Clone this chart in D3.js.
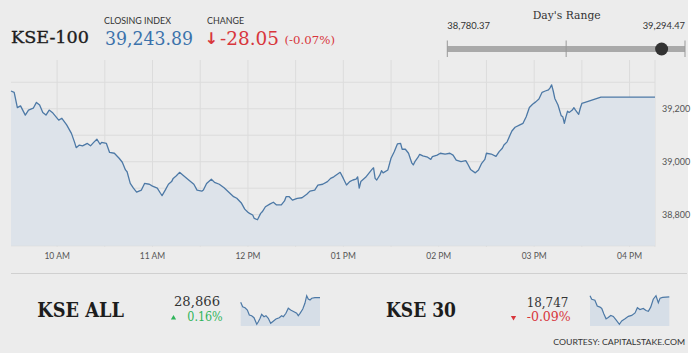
<!DOCTYPE html>
<html><head><meta charset="utf-8">
<script src="https://cdn.jsdelivr.net/npm/d3@7"></script>
<style>html,body{margin:0;padding:0;background:#fff;}svg{display:block;}</style>
</head><body>
<svg id="c" width="696" height="359"></svg>
<script>
// ---- data ----
const kse100Times = ["09:31","09:33","09:35","09:37","09:40","09:42","09:45","09:47","09:49","09:51","09:53","09:55","09:57","10:01","10:03","10:06","10:09","10:11","10:12","10:14","10:16","10:19","10:21","10:23","10:25","10:27","10:28","10:31","10:33","10:36","10:39","10:41","10:43","10:44","10:46","10:48","10:50","10:53","10:55","10:58","11:00","11:03","11:05","11:06","11:08","11:10","11:12","11:13","11:15","11:17","11:19","11:22","11:26","11:28","11:31","11:32","11:34","11:37","11:39","11:42","11:45","11:48","11:51","11:53","11:56","11:58","12:00","12:01","12:03","12:04","12:06","12:08","12:09","12:11","12:14","12:16","12:18","12:21","12:23","12:24","12:26","12:28","12:31","12:34","12:37","12:39","12:42","12:44","12:47","12:50","12:52","12:54","12:56","12:58","13:00","13:02","13:04","13:06","13:08","13:09","13:10","13:11","13:14","13:16","13:18","13:19","13:20","13:21","13:23","13:24","13:25","13:28","13:30","13:32","13:34","13:36","13:37","13:39","13:41","13:43","13:44","13:45","13:47","13:48","13:50","13:53","13:55","13:56","13:59","14:01","14:04","14:07","14:09","14:11","14:14","14:17","14:18","14:20","14:23","14:25","14:27","14:29","14:30","14:33","14:36","14:38","14:40","14:41","14:43","14:45","14:46","14:48","14:51","14:53","14:55","14:57","14:59","15:01","15:03","15:05","15:07","15:09","15:10","15:11","15:12","15:13","15:15","15:17","15:18","15:19","15:20","15:21","15:22","15:24","15:25","15:26","15:28","15:29","15:30","15:32","15:42","16:16"];
const kse100Values = [39267,39262,39204,39211,39176,39195,39202,39224,39214,39186,39176,39195,39186,39157,39164,39139,39107,39073,39053,39063,39060,39069,39060,39073,39085,39066,39073,39069,39035,39032,39013,38998,38969,38962,38918,38900,38885,38893,38918,38915,38908,38900,38881,38872,38893,38915,38925,38937,38947,38960,38950,38935,38915,38893,38889,38893,38918,38934,38922,38915,38902,38885,38868,38862,38843,38821,38809,38805,38799,38786,38781,38805,38811,38830,38841,38847,38837,38837,38852,38868,38868,38855,38862,38864,38877,38889,38893,38912,38915,38925,38937,38943,38952,38960,38937,38912,38925,38931,38934,38943,38900,38925,38941,38956,38971,38977,38937,38931,38950,38966,38958,38969,39013,39038,39067,39069,39047,39047,39032,38996,38988,39000,39017,39028,39022,39017,39009,39019,39025,39032,39029,39032,39025,39006,39000,39004,38994,38971,38958,38969,38994,39009,39032,39029,39020,39038,39051,39063,39075,39103,39116,39130,39139,39145,39170,39205,39217,39226,39237,39262,39267,39271,39279,39290,39267,39239,39214,39174,39170,39145,39170,39191,39186,39195,39204,39195,39179,39202,39220,39224,39244,39243.89];

const xTickTimes = ["10:00","11:00","12:00","13:00","14:00","15:00","16:00"];
const xTickLabels = ["10 AM","11 AM","12 PM","01 PM","02 PM","03 PM","04 PM"];
const yTickValues = [38800, 39000, 39200];

const kseAllTimes = ["09:31","09:41","09:53","10:05","10:15","10:27","10:39","10:53","11:01","11:10","11:18","11:30","11:40","11:52","12:04","12:14","12:31","12:48","13:00","13:09","13:22","13:34","13:46","14:03","14:17","14:25","14:34","14:48","14:59","15:08","15:16","15:25","15:34","15:50","16:16"];
const kseAllValues = [28811,28758,28746,28718,28658,28650,28626,28547,28578,28619,28667,28638,28650,28619,28559,28578,28610,28626,28650,28638,28679,28739,28718,28698,28679,28650,28679,28730,28799,28890,28850,28838,28859,28866,28866];

const kse30Times = ["09:31","09:40","09:56","10:08","10:22","10:31","10:42","10:53","11:04","11:17","11:30","11:44","12:01","12:13","12:30","12:47","13:04","13:21","13:33","13:46","14:03","14:17","14:29","14:41","14:54","15:08","15:20","15:29","15:42","16:16"];
const kse30Values = [18756,18727,18719,18671,18662,18651,18606,18566,18577,18594,18586,18557,18521,18549,18566,18586,18594,18614,18657,18642,18651,18634,18628,18662,18727,18756,18699,18736,18742,18747];

const closingIndex = 39243.89, change = "-28.05", changePct = "(-0.07%)";
const dayLow = 38780.37, dayHigh = 39294.47;
const kseAllClose = 28866, kseAllPct = "0.16%";
const kse30Close = 18747, kse30Pct = "-0.09%";

// ---- drawing ----
const svg = d3.select("#c");
const parse = d3.timeParse("%H:%M");
const serif = "'DejaVu Serif', 'Liberation Serif', serif";
const sans = "Lato, 'Open Sans', sans-serif";
const lineColor = "#4d79a6", fillColor = "#dde3ea", red = "#d8363c", green = "#2fb45a";

svg.append("rect").attr("x",0).attr("y",0).attr("width",688).attr("height",353).attr("fill","#ececec");

// main chart
const L = 11, R = 655, T = 60, B = 245.7;
const x = d3.scaleTime().domain([parse("09:31"), parse("16:16")]).range([L, R]);
const y = d3.scaleLinear().domain([38683, 39384]).range([B, T]);

const g = svg.append("g");
g.selectAll("line.h").data(d3.range(38700, 39301, 100)).join("line")
  .attr("x1", L).attr("x2", R).attr("y1", d => y(d)).attr("y2", d => y(d))
  .attr("stroke", "#dcdcdc").attr("stroke-width", 1);
const vTimes = d3.timeMinute.every(30).range(parse("10:00"), parse("16:01"));
g.selectAll("line.v").data(vTimes).join("line")
  .attr("x1", d => x(d)).attr("x2", d => x(d)).attr("y1", T).attr("y2", B + 1)
  .attr("stroke", "#dcdcdc").attr("stroke-width", 1);
g.append("line").attr("x1", R).attr("x2", R).attr("y1", T).attr("y2", B + 1).attr("stroke", "#dcdcdc");
g.append("line").attr("x1", L).attr("x2", R).attr("y1", B).attr("y2", B).attr("stroke", "#d4d4d4");

const data = kse100Times.map((t, i) => ({t: parse(t), v: kse100Values[i]}));
g.append("path").datum(data)
  .attr("d", d3.area().x(d => x(d.t)).y0(B).y1(d => y(d.v)))
  .attr("fill", fillColor);
g.append("path").datum(data)
  .attr("d", d3.line().x(d => x(d.t)).y(d => y(d.v)))
  .attr("fill", "none").attr("stroke", lineColor).attr("stroke-width", 1.3).attr("stroke-linejoin", "round");

g.selectAll("text.xt").data(xTickTimes).join("text")
  .attr("x", d => x(parse(d))).attr("y", 259).attr("text-anchor", "middle")
  .attr("font-family", sans).attr("font-size", 8.5).attr("fill", "#555")
  .text((d, i) => xTickLabels[i]);
g.selectAll("text.yt").data(yTickValues).join("text")
  .attr("x", 662).attr("y", d => y(d) + 3).attr("font-family", sans)
  .attr("font-size", 9).attr("fill", "#555").text(d => d3.format(",")(d));

// header
svg.append("text").attr("x", 11).attr("y", 43).attr("font-family", serif).attr("font-size", 17)
  .attr("fill", "#1d1d1d").attr("stroke", "#1d1d1d").attr("stroke-width", 0.35)
  .attr("textLength", 78).attr("lengthAdjust", "spacingAndGlyphs").text("KSE-100");
svg.append("text").attr("x", 104).attr("y", 23.5).attr("font-family", sans).attr("font-size", 8.5)
  .attr("fill", "#333").attr("textLength", 67).attr("lengthAdjust", "spacingAndGlyphs").text("CLOSING INDEX");
svg.append("text").attr("x", 105).attr("y", 45).attr("font-family", serif).attr("font-size", 18)
  .attr("fill", "#3b72ab").attr("textLength", 88).attr("lengthAdjust", "spacingAndGlyphs").text(d3.format(",.2f")(closingIndex));
svg.append("text").attr("x", 207).attr("y", 23.5).attr("font-family", sans).attr("font-size", 8.5)
  .attr("fill", "#333").attr("textLength", 37).attr("lengthAdjust", "spacingAndGlyphs").text("CHANGE");
svg.append("text").attr("x", 204.5).attr("y", 44).attr("font-family", "'DejaVu Sans', sans-serif").attr("font-size", 16)
  .attr("font-weight", "bold").attr("fill", red).text("↓");
svg.append("text").attr("x", 220).attr("y", 45).attr("font-family", serif).attr("font-size", 18)
  .attr("fill", red).attr("textLength", 59).attr("lengthAdjust", "spacingAndGlyphs").text(change);
svg.append("text").attr("x", 284.5).attr("y", 44).attr("font-family", serif).attr("font-size", 10.5)
  .attr("fill", red).attr("textLength", 50.5).attr("lengthAdjust", "spacingAndGlyphs").text(changePct);

// day's range
const rx = d3.scaleLinear().domain([dayLow, dayHigh]).range([447.3, 685]);
svg.append("text").attr("x", 566.7).attr("y", 19).attr("text-anchor", "middle").attr("font-family", serif)
  .attr("font-size", 11).attr("fill", "#333").attr("textLength", 68).attr("lengthAdjust", "spacingAndGlyphs").text("Day's Range");
svg.append("text").attr("x", rx(dayLow)).attr("y", 28.5).attr("font-family", sans).attr("font-size", 9)
  .attr("fill", "#333").attr("textLength", 42.7).attr("lengthAdjust", "spacingAndGlyphs").text(d3.format(",.2f")(dayLow));
svg.append("text").attr("x", rx(dayHigh)).attr("y", 28.5).attr("text-anchor", "end").attr("font-family", sans).attr("font-size", 9)
  .attr("fill", "#333").attr("textLength", 42.3).attr("lengthAdjust", "spacingAndGlyphs").text(d3.format(",.2f")(dayHigh));
svg.append("rect").attr("x", rx(dayLow)).attr("y", 46).attr("width", rx(dayHigh) - rx(dayLow)).attr("height", 6)
  .attr("fill", "#a9a9a9");
[dayLow, (dayLow + dayHigh) / 2, dayHigh].forEach(v => {
  svg.append("line").attr("x1", rx(v)).attr("x2", rx(v)).attr("y1", 40.5).attr("y2", 57)
    .attr("stroke", "#999").attr("stroke-width", 1);
});
svg.append("circle").attr("cx", rx(closingIndex)).attr("cy", 49).attr("r", 6.5).attr("fill", "#333");

svg.append("line").attr("x1", 11).attr("x2", 687).attr("y1", 273.5).attr("y2", 273.5).attr("stroke", "#d0d0d0");

function spark(times, values, x0, x1) {
  const sx = d3.scaleTime().domain([parse("09:31"), parse("16:16")]).range([x0, x1]);
  const sy = d3.scaleLinear().domain(d3.extent(values)).range([324.3, 295.7]);
  const d = times.map((t, i) => ({t: parse(t), v: values[i]}));
  svg.append("path").datum(d).attr("d", d3.area().x(p => sx(p.t)).y0(326).y1(p => sy(p.v))).attr("fill", "#d6dee7");
  svg.append("path").datum(d).attr("d", d3.line().x(p => sx(p.t)).y(p => sy(p.v)))
    .attr("fill", "none").attr("stroke", lineColor).attr("stroke-width", 1.2);
}
svg.append("text").attr("x", 37.3).attr("y", 317.3).attr("font-family", serif).attr("font-size", 20)
  .attr("font-weight", "bold").attr("fill", "#1d1d1d").attr("textLength", 86.7).attr("lengthAdjust", "spacingAndGlyphs").text("KSE ALL");
svg.append("text").attr("x", 174).attr("y", 306).attr("font-family", serif).attr("font-size", 13)
  .attr("fill", "#333").attr("textLength", 46).attr("lengthAdjust", "spacingAndGlyphs").text(d3.format(",")(kseAllClose));
svg.append("path").attr("d", d3.symbol(d3.symbolTriangle, 12)()).attr("transform", "translate(173.5,318)").attr("fill", green);
svg.append("text").attr("x", 187.3).attr("y", 321).attr("font-family", serif).attr("font-size", 12)
  .attr("fill", green).attr("textLength", 35.4).attr("lengthAdjust", "spacingAndGlyphs").text(kseAllPct);
spark(kseAllTimes, kseAllValues, 240.7, 320);

svg.append("text").attr("x", 386).attr("y", 316.7).attr("font-family", serif).attr("font-size", 20)
  .attr("font-weight", "bold").attr("fill", "#1d1d1d").attr("textLength", 70).attr("lengthAdjust", "spacingAndGlyphs").text("KSE 30");
svg.append("text").attr("x", 526.7).attr("y", 306.7).attr("font-family", serif).attr("font-size", 13)
  .attr("fill", "#333").attr("textLength", 41.6).attr("lengthAdjust", "spacingAndGlyphs").text(d3.format(",")(kse30Close));
svg.append("path").attr("d", d3.symbol(d3.symbolTriangle, 12)()).attr("transform", "translate(513.5,317.5) rotate(180)").attr("fill", red);
svg.append("text").attr("x", 526.7).attr("y", 320.7).attr("font-family", serif).attr("font-size", 12)
  .attr("fill", red).attr("textLength", 44).attr("lengthAdjust", "spacingAndGlyphs").text(kse30Pct);
spark(kse30Times, kse30Values, 590, 669.3);

svg.append("text").attr("x", 685).attr("y", 344.5).attr("text-anchor", "end").attr("font-family", sans).attr("font-size", 8)
  .attr("fill", "#333").attr("textLength", 131.7).attr("lengthAdjust", "spacingAndGlyphs").text("COURTESY: CAPITALSTAKE.COM");
</script>
</body></html>
